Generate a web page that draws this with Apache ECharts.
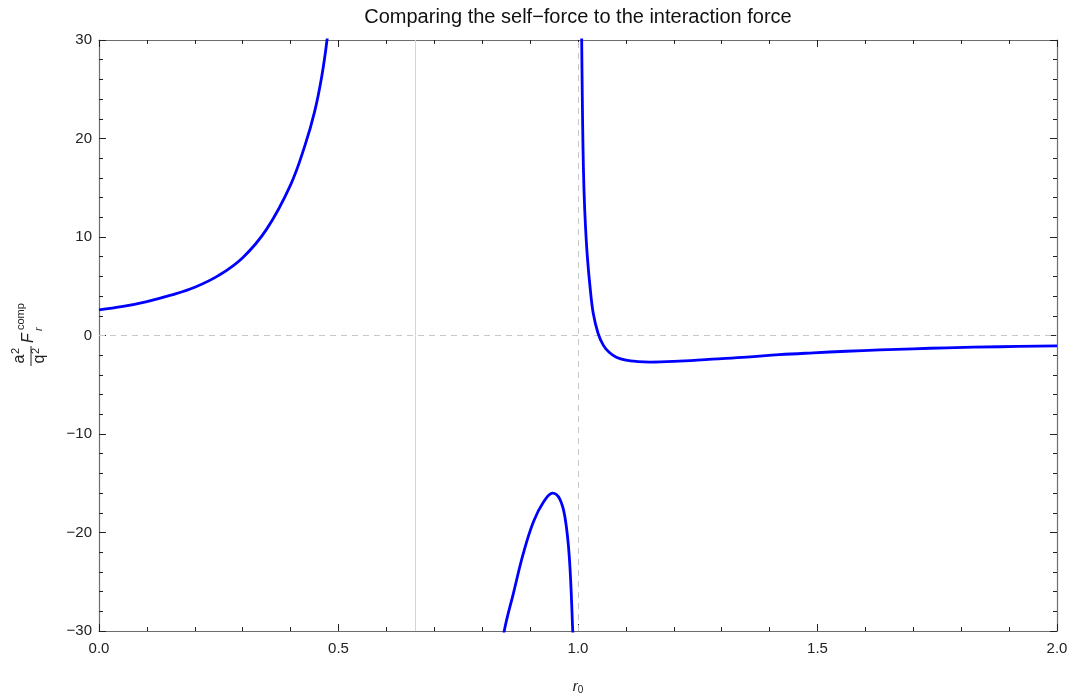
<!DOCTYPE html>
<html>
<head>
<meta charset="utf-8">
<script src="https://cdn.jsdelivr.net/npm/echarts@6/dist/echarts.min.js"></script>
<style>html,body{margin:0;padding:0;background:#fff}#c{width:1074px;height:696px}</style>
</head>
<body>
<div id="c"></div>
<script>
// ---- data ----
const titleText = 'Comparing the self\u2212force to the interaction force';
const xTicks = [0, 0.5, 1.0, 1.5, 2.0];
const yTicks = [-30, -20, -10, 0, 10, 20, 30];
// branch left of the first pole
const branchA = [[0, 2.6], [0.05, 2.95], [0.1, 3.45], [0.15, 4.1], [0.2, 4.9], [0.25, 6.1], [0.3, 7.9], [0.35, 10.8], [0.4, 15.3], [0.43, 19.3], [0.45, 22.7], [0.465, 26.3], [0.476, 30], [0.483, 33.5]];
// branch between poles
const branchB = [[0.838, -33], [0.846, -30], [0.865, -26.2], [0.886, -22.1], [0.907, -18.9], [0.928, -16.9], [0.947, -16.0], [0.962, -16.6], [0.973, -18.5], [0.982, -22.6], [0.989, -30], [0.991, -33]];
// branch right of x = 1
const branchC = [[1.0068, 36], [1.0077, 30], [1.009, 24.2], [1.0104, 19.2], [1.0125, 14.8], [1.0153, 11.4], [1.0195, 8.0], [1.025, 5.0], [1.032, 2.2], [1.042, 0.2], [1.053, -1.0], [1.065, -1.7], [1.08, -2.2], [1.1, -2.5], [1.125, -2.65], [1.15, -2.7], [1.2, -2.63], [1.28, -2.4], [1.352, -2.2], [1.42, -1.95], [1.491, -1.76], [1.56, -1.6], [1.63, -1.46], [1.7, -1.35], [1.77, -1.25], [1.88, -1.14], [2.0, -1.05]];
const dashedX = [1.0];
const dashedY = [0];
const solidX = [0.66];

const minus = v => (v < 0 ? '\u2212' + Math.abs(v) : String(v));
const chart = echarts.init(document.getElementById('c'), null, {renderer: 'canvas'});
const FONT = '"Liberation Sans", Arial, sans-serif';
const frameColor = '#6e6e6e';

function xAx(pos, labels) {
  return {
    type: 'value', position: pos, min: 0, max: 2, interval: 0.5,
    axisLine: {show: true, onZero: false, lineStyle: {color: frameColor, width: 1.2}},
    axisTick: {show: true, inside: true, length: 7, lineStyle: {color: '#222'}},
    minorTick: {show: true, splitNumber: 5, length: 4, lineStyle: {color: '#222'}},
    splitLine: {show: false},
    axisLabel: {show: labels, margin: 10, fontFamily: FONT, fontSize: 15, color: '#222',
      formatter: v => v.toFixed(1)}
  };
}
function yAx(pos, labels) {
  return {
    type: 'value', position: pos, min: -30, max: 30, interval: 10,
    axisLine: {show: true, onZero: false, lineStyle: {color: frameColor, width: 1.2}},
    axisTick: {show: true, inside: true, length: 7, lineStyle: {color: '#222'}},
    minorTick: {show: true, splitNumber: 5, length: 4, lineStyle: {color: '#222'}},
    splitLine: {show: false},
    axisLabel: {show: labels, margin: 7, fontFamily: FONT, fontSize: 15, color: '#222',
      formatter: v => minus(v)}
  };
}

const curve = d => ({
  type: 'line', data: d, xAxisIndex: 0, yAxisIndex: 0, smooth: 0.4,
  showSymbol: false, clip: true, lineStyle: {color: '#0000ff', width: 2.8}, z: 5, silent: true
});

// label for y axis (rotated fraction)
const lblFont = (size, italic) => ({fontFamily: FONT, fontSize: size, fontStyle: italic ? 'italic' : 'normal', fill: '#222'});
const yLabel = {
  type: 'group', x: 31, y: 356, rotation: Math.PI / 2,
  children: [
    {type: 'line', shape: {x1: -10, y1: 0, x2: 10, y2: 0}, style: {stroke: '#222', lineWidth: 1}},
    {type: 'text', x: -3, y: -3, style: Object.assign({text: 'a', align: 'center', verticalAlign: 'bottom'}, lblFont(16, false))},
    {type: 'text', x: 2, y: -15, style: Object.assign({text: '2', align: 'left', verticalAlign: 'middle'}, lblFont(11, false))},
    {type: 'text', x: -3, y: 17, style: Object.assign({text: 'q', align: 'center', verticalAlign: 'bottom'}, lblFont(16, false))},
    {type: 'text', x: 2, y: 5, style: Object.assign({text: '2', align: 'left', verticalAlign: 'middle'}, lblFont(11, false))},
    {type: 'text', x: 13, y: 6, style: Object.assign({text: 'F', align: 'left', verticalAlign: 'bottom'}, lblFont(16, true))},
    {type: 'text', x: 25, y: 8, style: Object.assign({text: 'r', align: 'left', verticalAlign: 'middle'}, lblFont(11, true))},
    {type: 'text', x: 26, y: -10, style: Object.assign({text: 'comp', align: 'left', verticalAlign: 'middle'}, lblFont(11, false))}
  ]
};

chart.setOption({
  animation: false,
  backgroundColor: '#fff',
  graphic: [
    yLabel,
    {type: 'text', x: 578, y: 17, style: {text: titleText, align: 'center', verticalAlign: 'middle',
      fontFamily: FONT, fontSize: 20, fill: '#111'}},
    {type: 'text', x: 578, y: 695, style: {
      text: '{i|r}{s|0}', align: 'center', verticalAlign: 'bottom',
      rich: {i: {fontFamily: FONT, fontSize: 15, fontStyle: 'italic', fill: '#222'},
             s: {fontFamily: FONT, fontSize: 10, fill: '#222', padding: [6, 0, 0, 0]}}
    }}
  ],
  grid: {left: 99, right: 17, top: 40, bottom: 65, containLabel: false},
  xAxis: [xAx('bottom', true), xAx('top', false)],
  yAxis: [yAx('left', true), yAx('right', false)],
  series: [
    {
      type: 'line', data: [], xAxisIndex: 0, yAxisIndex: 0, silent: true,
      markLine: {
        symbol: 'none', silent: true, label: {show: false}, animation: false,
        data: [
          ...dashedX.map(v => ({xAxis: v, lineStyle: {color: '#c8c8c8', type: [6, 5], width: 1}})),
          ...dashedY.map(v => ({yAxis: v, lineStyle: {color: '#c8c8c8', type: [6, 5], width: 1}})),
          ...solidX.map(v => ({xAxis: v, lineStyle: {color: '#d8d4d0', type: 'solid', width: 1}}))
        ]
      }
    },
    curve(branchA), curve(branchB), curve(branchC)
  ]
});
</script>
</body>
</html>
